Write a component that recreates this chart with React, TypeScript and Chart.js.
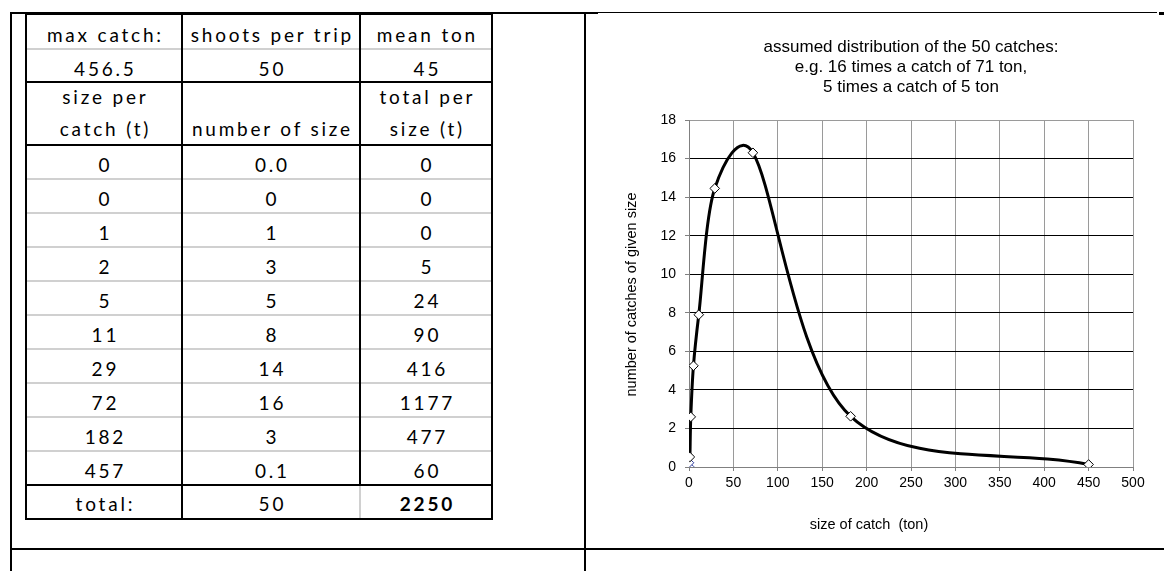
import React, { useEffect, useRef } from 'react';
import { Chart, registerables } from 'chart.js';

Chart.register(...registerables);

// ---------- table data ----------
const headerLabels = ['max catch:', 'shoots per trip', 'mean ton'];
const headerValues = ['456.5', '50', '45'];
const columnTitlesTop = ['size per', '', 'total per'];
const columnTitlesBottom = ['catch (t)', 'number of size', 'size (t)'];
const sizePerCatch = ['0', '0', '1', '2', '5', '11', '29', '72', '182', '457'];
const numberOfSize = ['0.0', '0', '1', '3', '5', '8', '14', '16', '3', '0.1'];
const totalPerSize = ['0', '0', '0', '5', '24', '90', '416', '1177', '477', '60'];
const totalRow = ['total:', '50', '2250'];

// ---------- chart data ----------
const chartTitleLines = [
  'assumed distribution of the 50 catches:',
  'e.g. 16 times a catch of 71 ton,',
  '5 times a catch of 5 ton',
];
const xAxisTitle = 'size of catch  (ton)';
const yAxisTitle = 'number of catches of given size';
const catchSizeTons = [0, 0, 1, 2, 5, 11, 29, 72, 182, 450];
const catchCount = [0.02, 0.22, 0.52, 2.6, 5.25, 7.9, 14.45, 16.3, 2.63, 0.13];
const xMax = 500;
const xStep = 50;
const yMax = 18;
const yStep = 2;

const CHART_FONT = '"Liberation Sans", Arial, Helvetica, sans-serif';
const TABLE_FONT = 'Lato, "Noto Sans", sans-serif';

// ---------- layout helpers ----------
const colX = [26, 182, 360, 492];
const dataTop = 145;
const rowH = 34;

function HLine({ x1, x2, y, t = 2, c = '#000' }: any) {
  return <div style={{ position: 'absolute', left: x1, top: y - Math.floor(t / 2), width: x2 - x1, height: t, background: c }} />;
}
function VLine({ x, y1, y2, t = 2, c = '#000' }: any) {
  return <div style={{ position: 'absolute', left: x - Math.floor(t / 2), top: y1, width: t, height: y2 - y1, background: c }} />;
}
function Cell({ col, top, height, text, bold = false, shift = 2.5 }: any) {
  return (
    <div
      style={{
        position: 'absolute',
        left: colX[col],
        width: colX[col + 1] - colX[col],
        top: top + shift,
        height,
        display: 'flex',
        alignItems: 'center',
        justifyContent: 'center',
        fontFamily: TABLE_FONT,
        fontSize: 19,
        letterSpacing: '2.8px',
        paddingLeft: '2.8px',
        boxSizing: 'border-box',
        fontWeight: bold ? 700 : 400,
        color: '#000',
        whiteSpace: 'nowrap',
      }}
    >
      {text}
    </div>
  );
}

// Excel-style smoothing: Catmull-Rom tangents (1/6), arm capped at half the segment length,
// phantom end points reflected through the end points.
const excelSmoothPlugin = {
  id: 'excelSmooth',
  beforeDatasetsDraw(chart: any) {
    chart.getSortedVisibleDatasetMetas().forEach((meta: any) => {
      const line = meta.dataset;
      if (!line) return;
      line.updateControlPoints(chart.chartArea, meta.iScale ? meta.iScale.axis : 'x');
      const pts = meta.data;
      const n = pts.length;
      for (let i = 0; i < n; i++) {
        const p = pts[i];
        const prev = i > 0 ? pts[i - 1] : { x: 2 * p.x - pts[Math.min(1, n - 1)].x, y: 2 * p.y - pts[Math.min(1, n - 1)].y };
        const next = i < n - 1 ? pts[i + 1] : { x: 2 * p.x - pts[Math.max(n - 2, 0)].x, y: 2 * p.y - pts[Math.max(n - 2, 0)].y };
        const tx = (next.x - prev.x) / 6;
        const ty = (next.y - prev.y) / 6;
        const tl = Math.hypot(tx, ty);
        const dPrev = Math.hypot(p.x - prev.x, p.y - prev.y);
        const dNext = Math.hypot(next.x - p.x, next.y - p.y);
        const s1 = tl > 0 ? Math.min(1, dPrev / 2 / tl) : 0;
        const s2 = tl > 0 ? Math.min(1, dNext / 2 / tl) : 0;
        p.cp1x = p.x - tx * s1;
        p.cp1y = p.y - ty * s1;
        p.cp2x = p.x + tx * s2;
        p.cp2y = p.y + ty * s2;
      }
      line._path = undefined;
    });
  },
};

const textPlugin = {
  id: 'customTexts',
  afterDraw(chart: any) {
    const { ctx, chartArea } = chart;
    const cx = (chartArea.left + chartArea.right) / 2;
    const cy = (chartArea.top + chartArea.bottom) / 2;
    ctx.save();
    ctx.fillStyle = '#000';
    ctx.textAlign = 'center';
    ctx.textBaseline = 'middle';
    ctx.font = `17px ${CHART_FONT}`;
    chartTitleLines.forEach((line, i) => {
      ctx.fillText(line, cx, chartArea.top - 73 + i * 20);
    });
    ctx.font = `14.5px ${CHART_FONT}`;
    ctx.fillText(xAxisTitle, cx - 42, chartArea.bottom + 57.5);
    ctx.translate(44.6, cy + 1);
    ctx.rotate(-Math.PI / 2);
    ctx.fillText(yAxisTitle, 0, 0);
    ctx.restore();
  },
};

function CatchChart() {
  const ref = useRef<HTMLCanvasElement | null>(null);
  useEffect(() => {
    const canvas = ref.current;
    if (!canvas) return;
    const chart = new Chart(canvas, {
      type: 'scatter',
      data: {
        datasets: [
          {
            data: catchSizeTons.map((x, i) => ({ x, y: catchCount[i] })),
            showLine: true,
            borderColor: '#000',
            borderWidth: 3,
            tension: 0.4,
            pointStyle: 'rectRot',
            pointRadius: 4.8,
            pointBackgroundColor: '#fff',
            pointBorderColor: catchCount.map((_, i) => (i < 2 ? '#2a3a9c' : '#000')),
            pointBorderWidth: 1,
            fill: false,
          } as any,
        ],
      },
      options: {
        responsive: false,
        animation: false,
        layout: { padding: { left: 0, top: 106, right: 31, bottom: 40 } },
        plugins: {
          legend: { display: false },
          title: { display: false },
          tooltip: { enabled: false },
        },
        scales: {
          x: {
            type: 'linear',
            min: 0,
            max: xMax,
            afterFit: (s: any) => {
              s.height = 40;
            },
            ticks: {
              stepSize: xStep,
              color: '#000',
              font: { family: CHART_FONT, size: 14 },
              padding: 4,
              maxRotation: 0,
              autoSkip: false,
            },
            grid: { color: '#9a9a9a', lineWidth: 1, tickLength: 4, tickColor: '#808080' },
            border: { color: '#808080', width: 1 },
          },
          y: {
            type: 'linear',
            min: 0,
            max: yMax,
            afterFit: (s: any) => {
              s.width = 102;
            },
            ticks: {
              stepSize: yStep,
              color: '#000',
              font: { family: CHART_FONT, size: 14 },
              padding: 9,
            },
            grid: {
              color: (c: any) => (c.tick && c.tick.value === yMax ? '#9a9a9a' : '#000'),
              lineWidth: 1,
              tickLength: 4,
              tickColor: '#808080',
            },
            border: { color: '#808080', width: 1 },
          },
        },
      } as any,
      plugins: [excelSmoothPlugin, textPlugin],
    });
    return () => chart.destroy();
  }, []);
  return (
    <canvas
      ref={ref}
      width={577}
      height={533}
      style={{ position: 'absolute', left: 587, top: 14, width: 577, height: 533, display: 'block' }}
    />
  );
}

export default function App() {
  const rowsEnd = dataTop + rowH * sizePerCatch.length; // 485
  const tableBottom = rowsEnd + rowH; // 519
  const dataCols = [sizePerCatch, numberOfSize, totalPerSize];
  return (
    <div style={{ position: 'absolute', left: 0, top: 0, width: 1164, height: 571, overflow: 'hidden', background: '#fff' }}>
      {/* outer frame */}
      <HLine x1={10} x2={598} y={13} t={2} />
      <HLine x1={598} x2={1157} y={12} t={1} />
      <HLine x1={1159} x2={1164} y={13} t={3} />
      <VLine x={11} y1={12} y2={571} />
      <VLine x={585} y1={12} y2={571} />
      <HLine x1={10} x2={1164} y={549} />

      {/* table cells */}
      {headerLabels.map((t, i) => (
        <Cell key={'h' + i} col={i} top={14} height={35} text={t} />
      ))}
      {headerValues.map((t, i) => (
        <Cell key={'v' + i} col={i} top={49} height={33} text={t} />
      ))}
      {columnTitlesTop.map((t, i) => (
        <Cell key={'ct' + i} col={i} top={82} height={31.5} text={t} shift={-1} />
      ))}
      {columnTitlesBottom.map((t, i) => (
        <Cell key={'cb' + i} col={i} top={113.5} height={31.5} text={t} shift={-1} />
      ))}
      {sizePerCatch.map((_, r) =>
        dataCols.map((col, c) => (
          <Cell key={'d' + r + '_' + c} col={c} top={dataTop + r * rowH} height={rowH} text={col[r]} />
        ))
      )}
      {totalRow.map((t, i) => (
        <Cell key={'t' + i} col={i} top={rowsEnd} height={rowH} text={t} bold={i === 2} shift={1.5} />
      ))}

      {/* table grid lines */}
      <HLine x1={colX[0]} x2={colX[3]} y={49} c="#d0d0d0" />
      {sizePerCatch.slice(1).map((_, r) => (
        <HLine key={'g' + r} x1={colX[0]} x2={colX[3]} y={dataTop + (r + 1) * rowH} c="#d0d0d0" />
      ))}
      <VLine x={colX[2]} y1={rowsEnd} y2={tableBottom} c="#d0d0d0" />
      <HLine x1={colX[0] - 1} x2={colX[3] + 1} y={82} />
      <HLine x1={colX[0] - 1} x2={colX[3] + 1} y={dataTop} />
      <HLine x1={colX[0] - 1} x2={colX[3] + 1} y={rowsEnd} />
      <HLine x1={colX[0] - 1} x2={colX[3] + 1} y={tableBottom} />
      <HLine x1={colX[0] - 1} x2={colX[3] + 1} y={14} />
      <VLine x={colX[0]} y1={12} y2={tableBottom + 1} />
      <VLine x={colX[1]} y1={12} y2={tableBottom + 1} />
      <VLine x={colX[2]} y1={12} y2={rowsEnd} />
      <VLine x={colX[3]} y1={12} y2={tableBottom + 1} />

      <CatchChart />
    </div>
  );
}
